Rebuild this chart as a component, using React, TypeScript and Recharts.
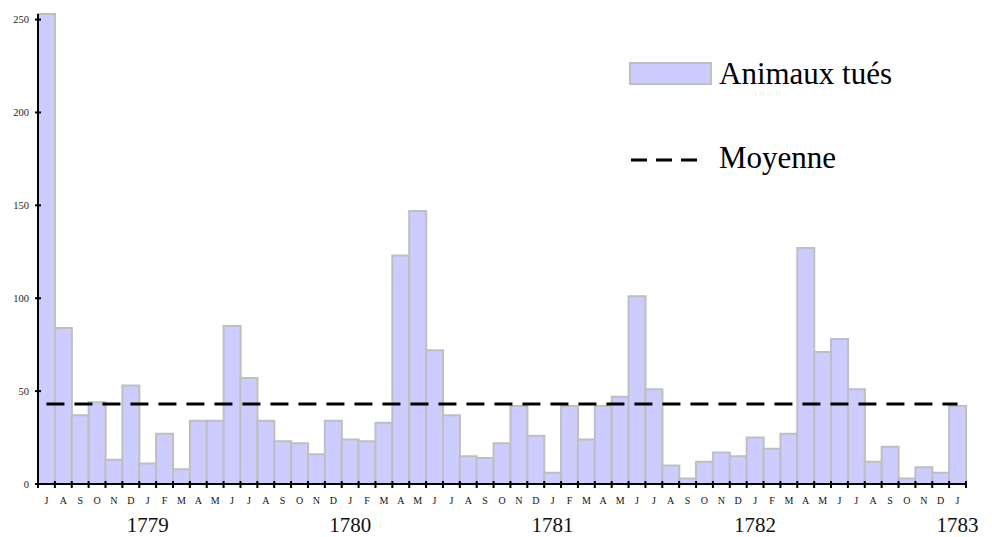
import React from 'react';
import {
  BarChart,
  Bar,
  XAxis,
  YAxis,
  ReferenceLine,
} from 'recharts';

// one letter per month, July 1778 -> January 1783
const months = [
  'J', 'A', 'S', 'O', 'N', 'D',
  'J', 'F', 'M', 'A', 'M', 'J', 'J', 'A', 'S', 'O', 'N', 'D',
  'J', 'F', 'M', 'A', 'M', 'J', 'J', 'A', 'S', 'O', 'N', 'D',
  'J', 'F', 'M', 'A', 'M', 'J', 'J', 'A', 'S', 'O', 'N', 'D',
  'J', 'F', 'M', 'A', 'M', 'J', 'J', 'A', 'S', 'O', 'N', 'D',
  'J',
];

const animauxTues = [
  253, 84, 37, 44, 13, 53,
  11, 27, 8, 34, 34, 85, 57, 34, 23, 22, 16, 34,
  24, 23, 33, 123, 147, 72, 37, 15, 14, 22, 42, 26,
  6, 42, 24, 42, 47, 101, 51, 10, 3, 12, 17, 15,
  25, 19, 27, 127, 71, 78, 51, 12, 20, 3, 9, 6,
  42,
];

const yearLabels = ['1779', '1780', '1781', '1782', '1783'];
const yTicks = [0, 50, 100, 150, 200, 250];
const moyenne = 43;

const data = months.map((m, i) => ({ id: i, month: m, tues: animauxTues[i] }));

const FONT = '"Liberation Serif", "Times New Roman", serif';

// index of January bars -> year label
const januaryYear: Record<number, string> = {};
let yi = 0;
months.forEach((m, i) => {
  if (i > 0 && m === 'J' && months[i - 1] === 'D') {
    januaryYear[i] = yearLabels[yi++];
  }
});

const MonthTick = (props: any) => {
  const { x, y, payload } = props;
  const half = payload.offset ?? 8.4;
  const idx = payload.index ?? payload.value;
  const isLast = idx === months.length - 1;
  return (
    <g>
      <line x1={x - half} x2={x - half} y1={y - 3} y2={y + 4} stroke="#000" strokeWidth={2} />
      {isLast && (
        <line x1={x + half} x2={x + half} y1={y - 3} y2={y + 4} stroke="#000" strokeWidth={2} />
      )}
      <text x={x} y={y + 20} textAnchor="middle" fontSize={10} fontFamily={FONT} fill="#111">
        {months[idx]}
      </text>
      {januaryYear[idx] && (
        <text x={x} y={y + 48} textAnchor="middle" fontSize={21} fontFamily={FONT} fill="#111">
          {januaryYear[idx]}
        </text>
      )}
    </g>
  );
};

const ValueTick = (props: any) => {
  const { x, y, payload } = props;
  return (
    <g>
      <line x1={x - 3} x2={x + 3} y1={y} y2={y} stroke="#000" strokeWidth={2} />
      <text x={x - 9} y={y} dy="0.35em" textAnchor="end" fontSize={10.5} fontFamily={FONT} fill="#222">
        {payload.value}
      </text>
    </g>
  );
};

const LegendBox = () => (
  <svg width={340} height={150} style={{ display: 'block', overflow: 'visible' }}>
    <rect x={2} y={15} width={81} height={21} fill="#CCCCFF" stroke="#BFBFBF" strokeWidth={2} />
    <text x={91} y={36} fontSize={31} fontFamily={FONT} fill="#000">
      Animaux tués
    </text>
    <line x1={3} x2={72} y1={112} y2={112} stroke="#000" strokeWidth={3} strokeDasharray="16 9" />
    <text x={91} y={120} fontSize={31} fontFamily={FONT} fill="#000">
      Moyenne
    </text>
  </svg>
);

export default function App() {
  return (
    <div style={{ position: 'absolute', left: 0, top: 0, width: 992, height: 537, background: '#fff' }}>
      <BarChart
        width={992}
        height={537}
        data={data}
        margin={{ top: 14, right: 26, left: 0, bottom: 0 }}
        barCategoryGap={0}
        barGap={0}
      >
        <XAxis
          dataKey="id"
          interval={0}
          height={53}
          tickLine={false}
          tickSize={0}
          tickMargin={0}
          axisLine={{ stroke: '#000', strokeWidth: 2 }}
          tick={<MonthTick />}
        />
        <YAxis
          width={38}
          domain={[0, 253]}
          ticks={yTicks}
          interval={0}
          tickLine={false}
          tickSize={0}
          tickMargin={0}
          axisLine={{ stroke: '#000', strokeWidth: 2 }}
          tick={<ValueTick />}
        />
        <Bar
          dataKey="tues"
          name="Animaux tués"
          fill="#CCCCFF"
          stroke="#BFBFBF"
          strokeWidth={2}
          isAnimationActive={false}
        />
        <ReferenceLine
          segment={[
            { x: 0, y: moyenne },
            { x: months.length - 1, y: moyenne },
          ]}
          stroke="#000"
          strokeWidth={3}
          strokeDasharray="18 10"
        />
      </BarChart>
      <div style={{ position: 'absolute', left: 628, top: 48 }}>
        <LegendBox />
      </div>
    </div>
  );
}
